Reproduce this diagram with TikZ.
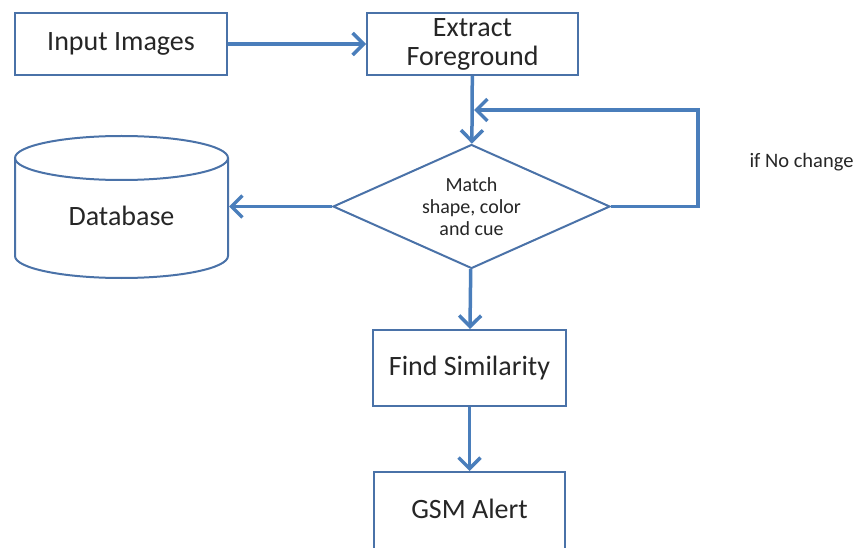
\documentclass[tikz,border=0pt]{standalone}
\usepackage{fontspec}
\setmainfont{Carlito}
\usetikzlibrary{arrows.meta, shapes.geometric}
\definecolor{boxblue}{HTML}{4A72A8}
\definecolor{flowblue}{HTML}{4A7EBB}
\tikzset{
  stepbox/.style={rectangle, draw=boxblue, line width=2pt, fill=white, inner sep=0pt,
    align=center, text=black!85, font=\fontsize{28}{29}\selectfont},
  decide/.style={diamond, draw=boxblue, line width=2pt, fill=white, aspect=2.23, inner sep=0pt,
    minimum width=277pt, minimum height=124pt, align=center, text=black!85,
    font=\fontsize{20}{22}\selectfont},
  flow/.style={draw=flowblue, line width=3.5pt, -{Straight Barb[length=11pt,width=22pt]}},
}

\begin{document}
\begin{tikzpicture}[x=1pt, y=-1pt]
  \useasboundingbox (0,0) rectangle (854,548);

  \node[stepbox, minimum width=212pt, minimum height=62pt] (input) at (121,44) {Input Images};
  \node[stepbox, minimum width=211pt, minimum height=62pt] (extract) at (472.5,44) {Extract\\Foreground};
  \node[decide] (match) at (471.5,206.5) {Match\\shape, color\\and cue};
  \node[stepbox, minimum width=193pt, minimum height=76pt] (sim) at (469.5,368) {Find Similarity};
  \node[stepbox, minimum width=191pt, minimum height=80pt, text depth=6pt] (gsm) at (469.5,512) {GSM Alert};

  % database drum
  \draw[draw=boxblue, line width=2pt] (15,158) -- (15,256)
    arc[start angle=180, end angle=0, x radius=106.5, y radius=22] -- (228,158);
  \draw[draw=boxblue, line width=2pt] (121.5,158) ellipse [x radius=106.5, y radius=22];
  \node[stepbox, draw=none, fill=none, minimum width=213pt] (db) at (121.5,216) {Database};

  \node[anchor=base west, text=black!85, font=\fontsize{20.5}{22}\selectfont] (nochange) at (746,168) {if No change};

  \coordinate (turn) at (698,110);
  \coordinate (back) at (474,110);

  \foreach \from/\to in {input/extract, extract/match, match/sim, sim/gsm}
    \draw[flow] (\from) -- (\to);
  \draw[flow] (match.west) -- (match.west -| db.east);
  \draw[flow] (match.east) -| (turn) -- (back);
\end{tikzpicture}
\end{document}
